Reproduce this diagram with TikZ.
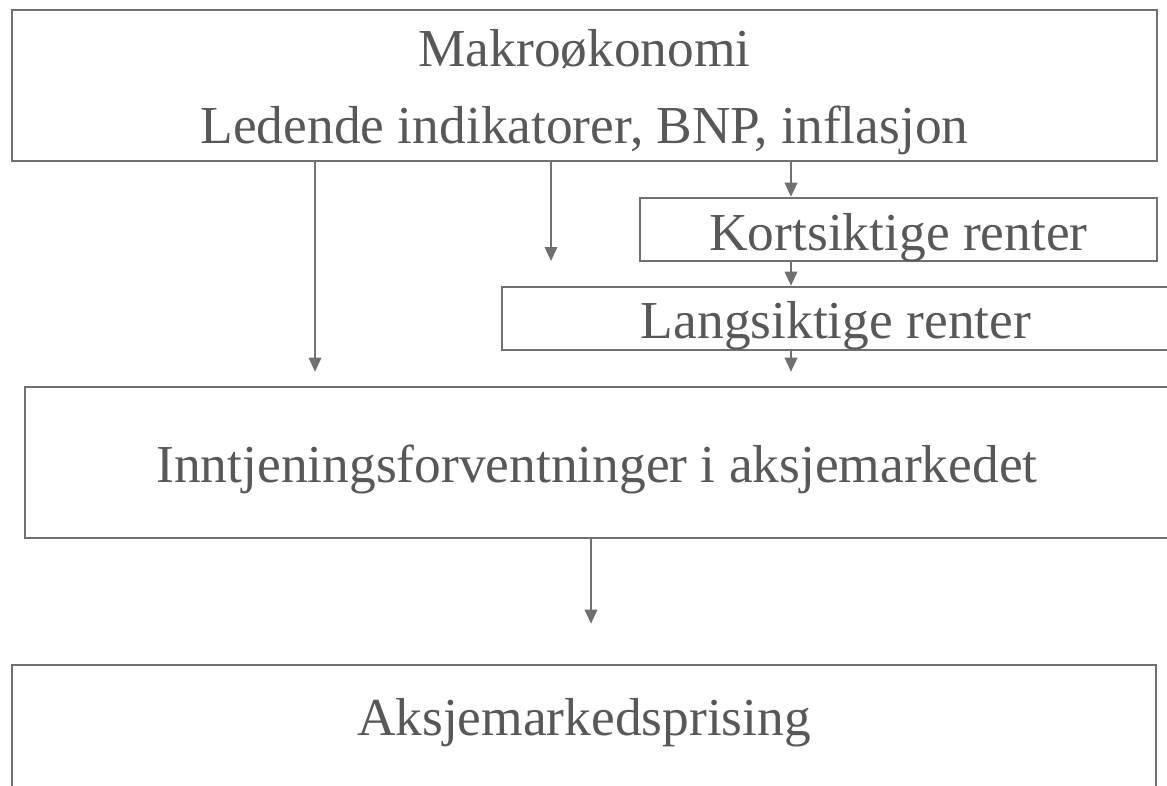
\documentclass[tikz,border=0pt]{standalone}
\usepackage{fontspec}
\setmainfont{Liberation Serif}
\usetikzlibrary{positioning,arrows.meta,calc}
\definecolor{lineGray}{RGB}{112,112,112}
\definecolor{textGray}{RGB}{88,88,88}

\begin{document}
\begin{tikzpicture}[x=0.02cm, y=-0.02cm,
                    box/.style={rectangle, draw=lineGray, line width=1.5pt, inner sep=0pt, anchor=base,
                                text=textGray, align=center, font=\fontsize{30.4}{43.7}\selectfont},
                    arr/.style={-{Triangle[length=0.28cm, width=0.25cm]}, draw=lineGray, line width=1.1pt}]
    \useasboundingbox (0,0) rectangle (1167,785);
    % Boxes (anchored on the text baseline)
    \node[box, minimum width=22.9cm, text height=2.66cm, text depth=0.36cm] (makro) at (584.5,143)
        {Makroøkonomi\\Ledende indikatorer, BNP, inflasjon};
    \node[box, minimum width=10.34cm, text height=1.04cm, text depth=0.22cm] (kort) at (898.5,250) {Kortsiktige renter};
    \node[box, minimum width=13.36cm, text height=1.02cm, text depth=0.24cm] (lang) at (836,338) {Langsiktige renter};
    \node[box, minimum width=22.88cm, text height=1.9cm, text depth=1.12cm] (innt) at (597,482)
        {Inntjeningsforventninger i aksjemarkedet};
    \node[box, minimum width=22.88cm, text height=1.4cm, text depth=2cm] (aksje) at (584,735) {Aksjemarkedsprising};

    % Arrow columns and the free end of the middle arrow
    \coordinate (left) at (315,0);
    \coordinate (right) at (791,0);
    \coordinate (mid) at (551,261);

    % Links
    \draw[arr, shorten >=0.28cm] (makro.south -| left) -- (innt.north -| left);
    \draw[arr] (makro.south -| mid) -- (mid);
    \draw[arr] (makro.south -| right) -- (kort.north -| right);
    \draw[arr] (kort.south -| right) -- (lang.north -| right);
    \draw[arr, shorten >=0.28cm] (lang.south -| right) -- (innt.north -| right);
    \draw[arr, shorten >=0.8cm] (innt.south -| 591,0) -- (aksje.north -| 591,0);
\end{tikzpicture}
\end{document}
